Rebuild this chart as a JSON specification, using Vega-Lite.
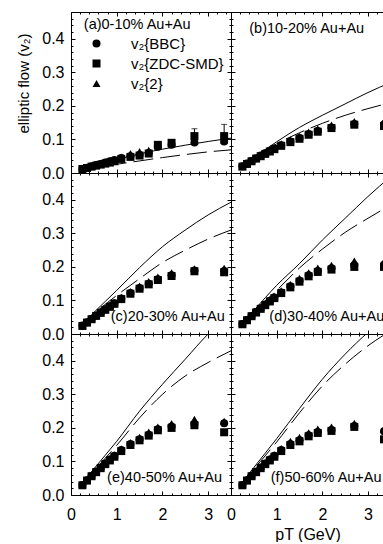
{
"$schema":"https://vega.github.io/schema/vega-lite/v6.json",
"padding":{"left":15,"top":11,"right":0,"bottom":0},
"columns":2,
"spacing":0,
"bounds":"flush",
"resolve":{"scale":{"shape":"independent"},"legend":{"shape":"independent"}},
"config":{"view":{"stroke":null},"font":"Liberation Sans",
 "axis":{"grid":false,"domainColor":"black","tickColor":"black","labelColor":"black","titleColor":"black","labelFont":"Liberation Sans","titleFont":"Liberation Sans","labelFontSize":16,"titleFontSize":16,"titleFontWeight":"normal","tickWidth":1,"domainWidth":1,"labelFlush":false,"labelOverlap":false}},
"datasets":{
"pts":[
{"p":"a","s":"v₂{BBC}","x":0.25,"y":0.012},{"p":"a","s":"v₂{BBC}","x":0.35,"y":0.016},{"p":"a","s":"v₂{BBC}","x":0.45,"y":0.020},{"p":"a","s":"v₂{BBC}","x":0.55,"y":0.024},{"p":"a","s":"v₂{BBC}","x":0.65,"y":0.027},{"p":"a","s":"v₂{BBC}","x":0.75,"y":0.031},{"p":"a","s":"v₂{BBC}","x":0.85,"y":0.035},{"p":"a","s":"v₂{BBC}","x":0.95,"y":0.039},{"p":"a","s":"v₂{BBC}","x":1.1,"y":0.045},{"p":"a","s":"v₂{BBC}","x":1.3,"y":0.050},{"p":"a","s":"v₂{BBC}","x":1.5,"y":0.054},{"p":"a","s":"v₂{BBC}","x":1.7,"y":0.060},{"p":"a","s":"v₂{BBC}","x":1.9,"y":0.078},{"p":"a","s":"v₂{BBC}","x":2.2,"y":0.084},{"p":"a","s":"v₂{BBC}","x":2.7,"y":0.091},{"p":"a","s":"v₂{BBC}","x":3.35,"y":0.094},
{"p":"a","s":"v₂{ZDC-SMD}","x":0.25,"y":0.012},{"p":"a","s":"v₂{ZDC-SMD}","x":0.35,"y":0.015},{"p":"a","s":"v₂{ZDC-SMD}","x":0.45,"y":0.019},{"p":"a","s":"v₂{ZDC-SMD}","x":0.55,"y":0.022},{"p":"a","s":"v₂{ZDC-SMD}","x":0.65,"y":0.025},{"p":"a","s":"v₂{ZDC-SMD}","x":0.75,"y":0.028},{"p":"a","s":"v₂{ZDC-SMD}","x":0.85,"y":0.031},{"p":"a","s":"v₂{ZDC-SMD}","x":0.95,"y":0.035},{"p":"a","s":"v₂{ZDC-SMD}","x":1.1,"y":0.042},{"p":"a","s":"v₂{ZDC-SMD}","x":1.3,"y":0.048},{"p":"a","s":"v₂{ZDC-SMD}","x":1.5,"y":0.052},{"p":"a","s":"v₂{ZDC-SMD}","x":1.7,"y":0.058},{"p":"a","s":"v₂{ZDC-SMD}","x":1.9,"y":0.084},{"p":"a","s":"v₂{ZDC-SMD}","x":2.2,"y":0.090},{"p":"a","s":"v₂{ZDC-SMD}","x":2.7,"y":0.110},{"p":"a","s":"v₂{ZDC-SMD}","x":3.35,"y":0.110},
{"p":"a","s":"v₂{2}","x":0.25,"y":0.013},{"p":"a","s":"v₂{2}","x":0.35,"y":0.017},{"p":"a","s":"v₂{2}","x":0.45,"y":0.021},{"p":"a","s":"v₂{2}","x":0.55,"y":0.025},{"p":"a","s":"v₂{2}","x":0.65,"y":0.029},{"p":"a","s":"v₂{2}","x":0.75,"y":0.033},{"p":"a","s":"v₂{2}","x":0.85,"y":0.037},{"p":"a","s":"v₂{2}","x":0.95,"y":0.041},{"p":"a","s":"v₂{2}","x":1.1,"y":0.048},{"p":"a","s":"v₂{2}","x":1.3,"y":0.058},{"p":"a","s":"v₂{2}","x":1.5,"y":0.064},{"p":"a","s":"v₂{2}","x":1.7,"y":0.068},{"p":"a","s":"v₂{2}","x":1.9,"y":0.080},{"p":"a","s":"v₂{2}","x":2.2,"y":0.086},{"p":"a","s":"v₂{2}","x":2.7,"y":0.095},{"p":"a","s":"v₂{2}","x":3.35,"y":0.098},
{"p":"b","s":"v₂{BBC}","x":0.25,"y":0.020},{"p":"b","s":"v₂{BBC}","x":0.35,"y":0.028},{"p":"b","s":"v₂{BBC}","x":0.45,"y":0.036},{"p":"b","s":"v₂{BBC}","x":0.55,"y":0.044},{"p":"b","s":"v₂{BBC}","x":0.65,"y":0.052},{"p":"b","s":"v₂{BBC}","x":0.75,"y":0.059},{"p":"b","s":"v₂{BBC}","x":0.85,"y":0.066},{"p":"b","s":"v₂{BBC}","x":0.95,"y":0.073},{"p":"b","s":"v₂{BBC}","x":1.1,"y":0.083},{"p":"b","s":"v₂{BBC}","x":1.3,"y":0.094},{"p":"b","s":"v₂{BBC}","x":1.5,"y":0.104},{"p":"b","s":"v₂{BBC}","x":1.7,"y":0.116},{"p":"b","s":"v₂{BBC}","x":1.9,"y":0.125},{"p":"b","s":"v₂{BBC}","x":2.2,"y":0.136},{"p":"b","s":"v₂{BBC}","x":2.7,"y":0.146},{"p":"b","s":"v₂{BBC}","x":3.35,"y":0.145},
{"p":"b","s":"v₂{ZDC-SMD}","x":0.25,"y":0.019},{"p":"b","s":"v₂{ZDC-SMD}","x":0.35,"y":0.027},{"p":"b","s":"v₂{ZDC-SMD}","x":0.45,"y":0.035},{"p":"b","s":"v₂{ZDC-SMD}","x":0.55,"y":0.043},{"p":"b","s":"v₂{ZDC-SMD}","x":0.65,"y":0.050},{"p":"b","s":"v₂{ZDC-SMD}","x":0.75,"y":0.057},{"p":"b","s":"v₂{ZDC-SMD}","x":0.85,"y":0.064},{"p":"b","s":"v₂{ZDC-SMD}","x":0.95,"y":0.071},{"p":"b","s":"v₂{ZDC-SMD}","x":1.1,"y":0.081},{"p":"b","s":"v₂{ZDC-SMD}","x":1.3,"y":0.092},{"p":"b","s":"v₂{ZDC-SMD}","x":1.5,"y":0.102},{"p":"b","s":"v₂{ZDC-SMD}","x":1.7,"y":0.114},{"p":"b","s":"v₂{ZDC-SMD}","x":1.9,"y":0.123},{"p":"b","s":"v₂{ZDC-SMD}","x":2.2,"y":0.134},{"p":"b","s":"v₂{ZDC-SMD}","x":2.7,"y":0.144},{"p":"b","s":"v₂{ZDC-SMD}","x":3.35,"y":0.140},
{"p":"b","s":"v₂{2}","x":0.25,"y":0.021},{"p":"b","s":"v₂{2}","x":0.35,"y":0.030},{"p":"b","s":"v₂{2}","x":0.45,"y":0.038},{"p":"b","s":"v₂{2}","x":0.55,"y":0.046},{"p":"b","s":"v₂{2}","x":0.65,"y":0.054},{"p":"b","s":"v₂{2}","x":0.75,"y":0.062},{"p":"b","s":"v₂{2}","x":0.85,"y":0.069},{"p":"b","s":"v₂{2}","x":0.95,"y":0.076},{"p":"b","s":"v₂{2}","x":1.1,"y":0.087},{"p":"b","s":"v₂{2}","x":1.3,"y":0.099},{"p":"b","s":"v₂{2}","x":1.5,"y":0.110},{"p":"b","s":"v₂{2}","x":1.7,"y":0.122},{"p":"b","s":"v₂{2}","x":1.9,"y":0.132},{"p":"b","s":"v₂{2}","x":2.2,"y":0.143},{"p":"b","s":"v₂{2}","x":2.7,"y":0.154},{"p":"b","s":"v₂{2}","x":3.35,"y":0.155},
{"p":"c","s":"v₂{BBC}","x":0.25,"y":0.025},{"p":"c","s":"v₂{BBC}","x":0.35,"y":0.035},{"p":"c","s":"v₂{BBC}","x":0.45,"y":0.045},{"p":"c","s":"v₂{BBC}","x":0.55,"y":0.055},{"p":"c","s":"v₂{BBC}","x":0.65,"y":0.065},{"p":"c","s":"v₂{BBC}","x":0.75,"y":0.074},{"p":"c","s":"v₂{BBC}","x":0.85,"y":0.083},{"p":"c","s":"v₂{BBC}","x":0.95,"y":0.092},{"p":"c","s":"v₂{BBC}","x":1.1,"y":0.106},{"p":"c","s":"v₂{BBC}","x":1.3,"y":0.122},{"p":"c","s":"v₂{BBC}","x":1.5,"y":0.137},{"p":"c","s":"v₂{BBC}","x":1.7,"y":0.150},{"p":"c","s":"v₂{BBC}","x":1.9,"y":0.163},{"p":"c","s":"v₂{BBC}","x":2.2,"y":0.175},{"p":"c","s":"v₂{BBC}","x":2.7,"y":0.189},{"p":"c","s":"v₂{BBC}","x":3.35,"y":0.188},
{"p":"c","s":"v₂{ZDC-SMD}","x":0.25,"y":0.024},{"p":"c","s":"v₂{ZDC-SMD}","x":0.35,"y":0.034},{"p":"c","s":"v₂{ZDC-SMD}","x":0.45,"y":0.044},{"p":"c","s":"v₂{ZDC-SMD}","x":0.55,"y":0.054},{"p":"c","s":"v₂{ZDC-SMD}","x":0.65,"y":0.063},{"p":"c","s":"v₂{ZDC-SMD}","x":0.75,"y":0.072},{"p":"c","s":"v₂{ZDC-SMD}","x":0.85,"y":0.081},{"p":"c","s":"v₂{ZDC-SMD}","x":0.95,"y":0.090},{"p":"c","s":"v₂{ZDC-SMD}","x":1.1,"y":0.104},{"p":"c","s":"v₂{ZDC-SMD}","x":1.3,"y":0.120},{"p":"c","s":"v₂{ZDC-SMD}","x":1.5,"y":0.135},{"p":"c","s":"v₂{ZDC-SMD}","x":1.7,"y":0.148},{"p":"c","s":"v₂{ZDC-SMD}","x":1.9,"y":0.161},{"p":"c","s":"v₂{ZDC-SMD}","x":2.2,"y":0.173},{"p":"c","s":"v₂{ZDC-SMD}","x":2.7,"y":0.187},{"p":"c","s":"v₂{ZDC-SMD}","x":3.35,"y":0.184},
{"p":"c","s":"v₂{2}","x":0.25,"y":0.026},{"p":"c","s":"v₂{2}","x":0.35,"y":0.036},{"p":"c","s":"v₂{2}","x":0.45,"y":0.047},{"p":"c","s":"v₂{2}","x":0.55,"y":0.057},{"p":"c","s":"v₂{2}","x":0.65,"y":0.067},{"p":"c","s":"v₂{2}","x":0.75,"y":0.077},{"p":"c","s":"v₂{2}","x":0.85,"y":0.086},{"p":"c","s":"v₂{2}","x":0.95,"y":0.095},{"p":"c","s":"v₂{2}","x":1.1,"y":0.110},{"p":"c","s":"v₂{2}","x":1.3,"y":0.127},{"p":"c","s":"v₂{2}","x":1.5,"y":0.143},{"p":"c","s":"v₂{2}","x":1.7,"y":0.157},{"p":"c","s":"v₂{2}","x":1.9,"y":0.170},{"p":"c","s":"v₂{2}","x":2.2,"y":0.183},{"p":"c","s":"v₂{2}","x":2.7,"y":0.195},{"p":"c","s":"v₂{2}","x":3.35,"y":0.196},
{"p":"d","s":"v₂{BBC}","x":0.25,"y":0.030},{"p":"d","s":"v₂{BBC}","x":0.35,"y":0.042},{"p":"d","s":"v₂{BBC}","x":0.45,"y":0.054},{"p":"d","s":"v₂{BBC}","x":0.55,"y":0.066},{"p":"d","s":"v₂{BBC}","x":0.65,"y":0.077},{"p":"d","s":"v₂{BBC}","x":0.75,"y":0.088},{"p":"d","s":"v₂{BBC}","x":0.85,"y":0.099},{"p":"d","s":"v₂{BBC}","x":0.95,"y":0.109},{"p":"d","s":"v₂{BBC}","x":1.1,"y":0.124},{"p":"d","s":"v₂{BBC}","x":1.3,"y":0.142},{"p":"d","s":"v₂{BBC}","x":1.5,"y":0.159},{"p":"d","s":"v₂{BBC}","x":1.7,"y":0.175},{"p":"d","s":"v₂{BBC}","x":1.9,"y":0.188},{"p":"d","s":"v₂{BBC}","x":2.2,"y":0.196},{"p":"d","s":"v₂{BBC}","x":2.7,"y":0.205},{"p":"d","s":"v₂{BBC}","x":3.35,"y":0.207},
{"p":"d","s":"v₂{ZDC-SMD}","x":0.25,"y":0.029},{"p":"d","s":"v₂{ZDC-SMD}","x":0.35,"y":0.041},{"p":"d","s":"v₂{ZDC-SMD}","x":0.45,"y":0.053},{"p":"d","s":"v₂{ZDC-SMD}","x":0.55,"y":0.064},{"p":"d","s":"v₂{ZDC-SMD}","x":0.65,"y":0.075},{"p":"d","s":"v₂{ZDC-SMD}","x":0.75,"y":0.086},{"p":"d","s":"v₂{ZDC-SMD}","x":0.85,"y":0.097},{"p":"d","s":"v₂{ZDC-SMD}","x":0.95,"y":0.107},{"p":"d","s":"v₂{ZDC-SMD}","x":1.1,"y":0.122},{"p":"d","s":"v₂{ZDC-SMD}","x":1.3,"y":0.139},{"p":"d","s":"v₂{ZDC-SMD}","x":1.5,"y":0.156},{"p":"d","s":"v₂{ZDC-SMD}","x":1.7,"y":0.172},{"p":"d","s":"v₂{ZDC-SMD}","x":1.9,"y":0.185},{"p":"d","s":"v₂{ZDC-SMD}","x":2.2,"y":0.192},{"p":"d","s":"v₂{ZDC-SMD}","x":2.7,"y":0.200},{"p":"d","s":"v₂{ZDC-SMD}","x":3.35,"y":0.200},
{"p":"d","s":"v₂{2}","x":0.25,"y":0.031},{"p":"d","s":"v₂{2}","x":0.35,"y":0.044},{"p":"d","s":"v₂{2}","x":0.45,"y":0.056},{"p":"d","s":"v₂{2}","x":0.55,"y":0.068},{"p":"d","s":"v₂{2}","x":0.65,"y":0.080},{"p":"d","s":"v₂{2}","x":0.75,"y":0.091},{"p":"d","s":"v₂{2}","x":0.85,"y":0.102},{"p":"d","s":"v₂{2}","x":0.95,"y":0.113},{"p":"d","s":"v₂{2}","x":1.1,"y":0.129},{"p":"d","s":"v₂{2}","x":1.3,"y":0.148},{"p":"d","s":"v₂{2}","x":1.5,"y":0.166},{"p":"d","s":"v₂{2}","x":1.7,"y":0.183},{"p":"d","s":"v₂{2}","x":1.9,"y":0.197},{"p":"d","s":"v₂{2}","x":2.2,"y":0.205},{"p":"d","s":"v₂{2}","x":2.7,"y":0.218},{"p":"d","s":"v₂{2}","x":3.35,"y":0.216},
{"p":"e","s":"v₂{BBC}","x":0.25,"y":0.030},{"p":"e","s":"v₂{BBC}","x":0.35,"y":0.044},{"p":"e","s":"v₂{BBC}","x":0.45,"y":0.057},{"p":"e","s":"v₂{BBC}","x":0.55,"y":0.070},{"p":"e","s":"v₂{BBC}","x":0.65,"y":0.082},{"p":"e","s":"v₂{BBC}","x":0.75,"y":0.094},{"p":"e","s":"v₂{BBC}","x":0.85,"y":0.106},{"p":"e","s":"v₂{BBC}","x":0.95,"y":0.117},{"p":"e","s":"v₂{BBC}","x":1.1,"y":0.134},{"p":"e","s":"v₂{BBC}","x":1.3,"y":0.152},{"p":"e","s":"v₂{BBC}","x":1.5,"y":0.166},{"p":"e","s":"v₂{BBC}","x":1.7,"y":0.180},{"p":"e","s":"v₂{BBC}","x":1.9,"y":0.196},{"p":"e","s":"v₂{BBC}","x":2.2,"y":0.204},{"p":"e","s":"v₂{BBC}","x":2.7,"y":0.212},{"p":"e","s":"v₂{BBC}","x":3.35,"y":0.214},
{"p":"e","s":"v₂{ZDC-SMD}","x":0.25,"y":0.029},{"p":"e","s":"v₂{ZDC-SMD}","x":0.35,"y":0.043},{"p":"e","s":"v₂{ZDC-SMD}","x":0.45,"y":0.056},{"p":"e","s":"v₂{ZDC-SMD}","x":0.55,"y":0.068},{"p":"e","s":"v₂{ZDC-SMD}","x":0.65,"y":0.080},{"p":"e","s":"v₂{ZDC-SMD}","x":0.75,"y":0.092},{"p":"e","s":"v₂{ZDC-SMD}","x":0.85,"y":0.103},{"p":"e","s":"v₂{ZDC-SMD}","x":0.95,"y":0.114},{"p":"e","s":"v₂{ZDC-SMD}","x":1.1,"y":0.131},{"p":"e","s":"v₂{ZDC-SMD}","x":1.3,"y":0.149},{"p":"e","s":"v₂{ZDC-SMD}","x":1.5,"y":0.163},{"p":"e","s":"v₂{ZDC-SMD}","x":1.7,"y":0.177},{"p":"e","s":"v₂{ZDC-SMD}","x":1.9,"y":0.193},{"p":"e","s":"v₂{ZDC-SMD}","x":2.2,"y":0.200},{"p":"e","s":"v₂{ZDC-SMD}","x":2.7,"y":0.208},{"p":"e","s":"v₂{ZDC-SMD}","x":3.35,"y":0.187},
{"p":"e","s":"v₂{2}","x":0.25,"y":0.031},{"p":"e","s":"v₂{2}","x":0.35,"y":0.046},{"p":"e","s":"v₂{2}","x":0.45,"y":0.059},{"p":"e","s":"v₂{2}","x":0.55,"y":0.072},{"p":"e","s":"v₂{2}","x":0.65,"y":0.085},{"p":"e","s":"v₂{2}","x":0.75,"y":0.097},{"p":"e","s":"v₂{2}","x":0.85,"y":0.109},{"p":"e","s":"v₂{2}","x":0.95,"y":0.120},{"p":"e","s":"v₂{2}","x":1.1,"y":0.138},{"p":"e","s":"v₂{2}","x":1.3,"y":0.157},{"p":"e","s":"v₂{2}","x":1.5,"y":0.172},{"p":"e","s":"v₂{2}","x":1.7,"y":0.188},{"p":"e","s":"v₂{2}","x":1.9,"y":0.203},{"p":"e","s":"v₂{2}","x":2.2,"y":0.213},{"p":"e","s":"v₂{2}","x":2.7,"y":0.226},{"p":"e","s":"v₂{2}","x":3.35,"y":0.220},
{"p":"f","s":"v₂{BBC}","x":0.25,"y":0.030},{"p":"f","s":"v₂{BBC}","x":0.35,"y":0.044},{"p":"f","s":"v₂{BBC}","x":0.45,"y":0.057},{"p":"f","s":"v₂{BBC}","x":0.55,"y":0.070},{"p":"f","s":"v₂{BBC}","x":0.65,"y":0.082},{"p":"f","s":"v₂{BBC}","x":0.75,"y":0.094},{"p":"f","s":"v₂{BBC}","x":0.85,"y":0.106},{"p":"f","s":"v₂{BBC}","x":0.95,"y":0.117},{"p":"f","s":"v₂{BBC}","x":1.1,"y":0.134},{"p":"f","s":"v₂{BBC}","x":1.3,"y":0.152},{"p":"f","s":"v₂{BBC}","x":1.5,"y":0.163},{"p":"f","s":"v₂{BBC}","x":1.7,"y":0.178},{"p":"f","s":"v₂{BBC}","x":1.9,"y":0.188},{"p":"f","s":"v₂{BBC}","x":2.2,"y":0.194},{"p":"f","s":"v₂{BBC}","x":2.7,"y":0.206},{"p":"f","s":"v₂{BBC}","x":3.35,"y":0.190},
{"p":"f","s":"v₂{ZDC-SMD}","x":0.25,"y":0.029},{"p":"f","s":"v₂{ZDC-SMD}","x":0.35,"y":0.043},{"p":"f","s":"v₂{ZDC-SMD}","x":0.45,"y":0.056},{"p":"f","s":"v₂{ZDC-SMD}","x":0.55,"y":0.068},{"p":"f","s":"v₂{ZDC-SMD}","x":0.65,"y":0.080},{"p":"f","s":"v₂{ZDC-SMD}","x":0.75,"y":0.092},{"p":"f","s":"v₂{ZDC-SMD}","x":0.85,"y":0.103},{"p":"f","s":"v₂{ZDC-SMD}","x":0.95,"y":0.114},{"p":"f","s":"v₂{ZDC-SMD}","x":1.1,"y":0.131},{"p":"f","s":"v₂{ZDC-SMD}","x":1.3,"y":0.149},{"p":"f","s":"v₂{ZDC-SMD}","x":1.5,"y":0.160},{"p":"f","s":"v₂{ZDC-SMD}","x":1.7,"y":0.175},{"p":"f","s":"v₂{ZDC-SMD}","x":1.9,"y":0.185},{"p":"f","s":"v₂{ZDC-SMD}","x":2.2,"y":0.191},{"p":"f","s":"v₂{ZDC-SMD}","x":2.7,"y":0.203},{"p":"f","s":"v₂{ZDC-SMD}","x":3.35,"y":0.166},
{"p":"f","s":"v₂{2}","x":0.25,"y":0.031},{"p":"f","s":"v₂{2}","x":0.35,"y":0.046},{"p":"f","s":"v₂{2}","x":0.45,"y":0.059},{"p":"f","s":"v₂{2}","x":0.55,"y":0.072},{"p":"f","s":"v₂{2}","x":0.65,"y":0.085},{"p":"f","s":"v₂{2}","x":0.75,"y":0.097},{"p":"f","s":"v₂{2}","x":0.85,"y":0.109},{"p":"f","s":"v₂{2}","x":0.95,"y":0.120},{"p":"f","s":"v₂{2}","x":1.1,"y":0.139},{"p":"f","s":"v₂{2}","x":1.3,"y":0.160},{"p":"f","s":"v₂{2}","x":1.5,"y":0.172},{"p":"f","s":"v₂{2}","x":1.7,"y":0.186},{"p":"f","s":"v₂{2}","x":1.9,"y":0.197},{"p":"f","s":"v₂{2}","x":2.2,"y":0.203},{"p":"f","s":"v₂{2}","x":2.7,"y":0.214},{"p":"f","s":"v₂{2}","x":3.35,"y":0.195}
],
"lines":[
{"p":"a","k":"s","x":0.2,"y":0.010},{"p":"a","k":"s","x":0.5,"y":0.022},{"p":"a","k":"s","x":1.0,"y":0.040},{"p":"a","k":"s","x":1.5,"y":0.057},{"p":"a","k":"s","x":2.0,"y":0.071},{"p":"a","k":"s","x":2.5,"y":0.083},{"p":"a","k":"s","x":3.0,"y":0.094},{"p":"a","k":"s","x":3.5,"y":0.104},
{"p":"a","k":"d","x":0.2,"y":0.008},{"p":"a","k":"d","x":0.5,"y":0.016},{"p":"a","k":"d","x":1.0,"y":0.026},{"p":"a","k":"d","x":1.5,"y":0.036},{"p":"a","k":"d","x":2.0,"y":0.046},{"p":"a","k":"d","x":2.5,"y":0.055},{"p":"a","k":"d","x":3.0,"y":0.063},{"p":"a","k":"d","x":3.5,"y":0.069},
{"p":"b","k":"s","x":0.2,"y":0.017},{"p":"b","k":"s","x":0.5,"y":0.046},{"p":"b","k":"s","x":1.0,"y":0.093},{"p":"b","k":"s","x":1.5,"y":0.136},{"p":"b","k":"s","x":2.0,"y":0.172},{"p":"b","k":"s","x":2.5,"y":0.206},{"p":"b","k":"s","x":3.0,"y":0.240},{"p":"b","k":"s","x":3.5,"y":0.270},
{"p":"b","k":"d","x":0.2,"y":0.016},{"p":"b","k":"d","x":0.5,"y":0.044},{"p":"b","k":"d","x":1.0,"y":0.087},{"p":"b","k":"d","x":1.5,"y":0.120},{"p":"b","k":"d","x":2.0,"y":0.148},{"p":"b","k":"d","x":2.5,"y":0.172},{"p":"b","k":"d","x":3.0,"y":0.192},{"p":"b","k":"d","x":3.5,"y":0.210},
{"p":"c","k":"s","x":0.2,"y":0.022},{"p":"c","k":"s","x":0.5,"y":0.064},{"p":"c","k":"s","x":1.0,"y":0.130},{"p":"c","k":"s","x":1.5,"y":0.198},{"p":"c","k":"s","x":2.0,"y":0.260},{"p":"c","k":"s","x":2.5,"y":0.310},{"p":"c","k":"s","x":3.0,"y":0.355},{"p":"c","k":"s","x":3.5,"y":0.393},
{"p":"c","k":"d","x":0.2,"y":0.021},{"p":"c","k":"d","x":0.5,"y":0.060},{"p":"c","k":"d","x":1.0,"y":0.115},{"p":"c","k":"d","x":1.5,"y":0.165},{"p":"c","k":"d","x":2.0,"y":0.213},{"p":"c","k":"d","x":2.5,"y":0.250},{"p":"c","k":"d","x":3.0,"y":0.283},{"p":"c","k":"d","x":3.5,"y":0.310},
{"p":"d","k":"s","x":0.2,"y":0.025},{"p":"d","k":"s","x":0.5,"y":0.070},{"p":"d","k":"s","x":1.0,"y":0.145},{"p":"d","k":"s","x":1.5,"y":0.210},{"p":"d","k":"s","x":2.0,"y":0.280},{"p":"d","k":"s","x":2.5,"y":0.345},{"p":"d","k":"s","x":3.0,"y":0.410},{"p":"d","k":"s","x":3.5,"y":0.470},
{"p":"d","k":"d","x":0.2,"y":0.024},{"p":"d","k":"d","x":0.5,"y":0.066},{"p":"d","k":"d","x":1.0,"y":0.130},{"p":"d","k":"d","x":1.5,"y":0.197},{"p":"d","k":"d","x":2.0,"y":0.253},{"p":"d","k":"d","x":2.5,"y":0.303},{"p":"d","k":"d","x":3.0,"y":0.345},{"p":"d","k":"d","x":3.5,"y":0.385},
{"p":"e","k":"s","x":0.2,"y":0.028},{"p":"e","k":"s","x":0.5,"y":0.078},{"p":"e","k":"s","x":1.0,"y":0.160},{"p":"e","k":"s","x":1.5,"y":0.250},{"p":"e","k":"s","x":2.0,"y":0.330},{"p":"e","k":"s","x":2.5,"y":0.405},{"p":"e","k":"s","x":3.0,"y":0.480},{"p":"e","k":"s","x":3.5,"y":0.540},
{"p":"e","k":"d","x":0.2,"y":0.026},{"p":"e","k":"d","x":0.5,"y":0.072},{"p":"e","k":"d","x":1.0,"y":0.148},{"p":"e","k":"d","x":1.5,"y":0.230},{"p":"e","k":"d","x":2.0,"y":0.300},{"p":"e","k":"d","x":2.5,"y":0.355},{"p":"e","k":"d","x":3.0,"y":0.395},{"p":"e","k":"d","x":3.5,"y":0.430},
{"p":"f","k":"s","x":0.2,"y":0.030},{"p":"f","k":"s","x":0.5,"y":0.082},{"p":"f","k":"s","x":1.0,"y":0.168},{"p":"f","k":"s","x":1.5,"y":0.258},{"p":"f","k":"s","x":2.0,"y":0.345},{"p":"f","k":"s","x":2.5,"y":0.420},{"p":"f","k":"s","x":3.0,"y":0.485},{"p":"f","k":"s","x":3.5,"y":0.540},
{"p":"f","k":"d","x":0.2,"y":0.028},{"p":"f","k":"d","x":0.5,"y":0.077},{"p":"f","k":"d","x":1.0,"y":0.158},{"p":"f","k":"d","x":1.5,"y":0.245},{"p":"f","k":"d","x":2.0,"y":0.325},{"p":"f","k":"d","x":2.5,"y":0.390},{"p":"f","k":"d","x":3.0,"y":0.445},{"p":"f","k":"d","x":3.5,"y":0.490}
],
"labels":[{"p":"a","t":"(a)0-10% Au+Au"},{"p":"b","t":"(b)10-20% Au+Au"},{"p":"c","t":"(c)20-30% Au+Au"},{"p":"d","t":"(d)30-40% Au+Au"},{"p":"e","t":"(e)40-50% Au+Au"},{"p":"f","t":"(f)50-60% Au+Au"}],
"errs":[{"p":"a","x":2.7,"lo":0.110,"hi":0.132},{"p":"a","x":3.35,"lo":0.110,"hi":0.145}]
},
"concat":[
{"width":160,"height":161,"resolve":{"axis":{"x":"independent","y":"independent"}},"layer":[
 {"data":{"name":"lines"},"transform":[{"filter":"datum.p=='a'&&datum.k=='s'"}],"mark":{"type":"line","color":"black","strokeWidth":1,"clip":true,"interpolate":"monotone"},
  "encoding":{"x":{"field":"x","type":"quantitative","scale":{"domain":[0,3.5],"nice":false},"axis":{"orient":"bottom","values":[0,1,2,3],"tickSize":-4,"labels":false,"title":null}},
   "y":{"field":"y","type":"quantitative","scale":{"domain":[0,0.48],"nice":false},"axis":{"orient":"left","values":[0,0.1,0.2,0.3,0.4],"tickSize":-4,"labelPadding":11,"format":".1f","title":"elliptic flow (v₂)","titleX":-43,"titleY":71,"titleBaseline":"alphabetic","titleAlign":"center","titleFontSize":15}}}},
 {"data":{"name":"lines"},"transform":[{"filter":"datum.p=='a'&&datum.k=='d'"}],"mark":{"type":"line","color":"black","strokeWidth":1,"clip":true,"interpolate":"monotone","strokeDash":[20,7]},
  "encoding":{"x":{"field":"x","type":"quantitative","axis":{"orient":"bottom","values":[0.2,0.4,0.6,0.8,1.2,1.4,1.6,1.8,2.2,2.4,2.6,2.8,3.2,3.4],"tickSize":-2,"domain":false,"labels":false,"title":null}},
   "y":{"field":"y","type":"quantitative","axis":{"orient":"left","values":[0.02,0.04,0.06,0.08,0.12,0.14,0.16,0.18,0.22,0.24,0.26,0.28,0.32,0.34,0.36,0.38,0.42,0.44,0.46],"tickSize":-2,"domain":false,"labels":false,"title":null}}}},
 {"data":{"name":"errs"},"mark":{"type":"errorbar","color":"black","ticks":{"size":6,"color":"black"}},
  "encoding":{"x":{"field":"x","type":"quantitative","axis":null},"y":{"field":"lo","type":"quantitative","axis":null},"y2":{"field":"hi"}}},
 {"data":{"name":"pts"},"transform":[{"filter":"datum.p=='a'"}],"mark":{"type":"point","filled":true,"color":"black","opacity":1,"size":64,"clip":true},
  "encoding":{"x":{"field":"x","type":"quantitative","axis":{"orient":"top","values":[0,1,2,3],"tickSize":-4,"labels":false,"title":null}},
   "y":{"field":"y","type":"quantitative","axis":{"orient":"right","values":[0,0.1,0.2,0.3,0.4],"tickSize":-4,"labels":false,"title":null}},
   "shape":{"field":"s","type":"nominal","scale":{"domain":["v₂{BBC}","v₂{ZDC-SMD}","v₂{2}"],"range":["circle","square","triangle-up"]},
    "legend":{"orient":"none","legendX":18,"legendY":24,"title":null,"padding":0,"labelFontSize":15,"labelFont":"Liberation Sans","labelColor":"black","labelOffset":27,"rowPadding":4,"symbolSize":64,"symbolFillColor":"black","symbolStrokeWidth":0}}}},
 {"data":{"name":"labels"},"transform":[{"filter":"datum.p=='a'"}],"mark":{"type":"text","align":"left","baseline":"middle","fontSize":14.5,"font":"Liberation Sans","color":"black","clip":true},
  "encoding":{"x":{"datum":0.28,"type":"quantitative","axis":{"orient":"top","values":[0.2,0.4,0.6,0.8,1.2,1.4,1.6,1.8,2.2,2.4,2.6,2.8,3.2,3.4],"tickSize":-2,"domain":false,"labels":false,"title":null}},
   "y":{"datum":0.44,"type":"quantitative","axis":{"orient":"right","values":[0.02,0.04,0.06,0.08,0.12,0.14,0.16,0.18,0.22,0.24,0.26,0.28,0.32,0.34,0.36,0.38,0.42,0.44,0.46],"tickSize":-2,"domain":false,"labels":false,"title":null}},
   "text":{"field":"t"}}}
]},
{"width":153,"height":161,"resolve":{"axis":{"x":"independent","y":"independent"}},"layer":[
 {"data":{"name":"lines"},"transform":[{"filter":"datum.p=='b'&&datum.k=='s'"}],"mark":{"type":"line","color":"black","strokeWidth":1,"clip":true,"interpolate":"monotone"},
  "encoding":{"x":{"field":"x","type":"quantitative","scale":{"domain":[0,3.35],"nice":false},"axis":{"orient":"bottom","values":[0,1,2,3],"tickSize":-4,"labels":false,"title":null}},
   "y":{"field":"y","type":"quantitative","scale":{"domain":[0,0.48],"nice":false},"axis":{"orient":"left","values":[0,0.1,0.2,0.3,0.4],"tickSize":-4,"labels":false,"title":null}}}},
 {"data":{"name":"lines"},"transform":[{"filter":"datum.p=='b'&&datum.k=='d'"}],"mark":{"type":"line","color":"black","strokeWidth":1,"clip":true,"interpolate":"monotone","strokeDash":[20,7]},
  "encoding":{"x":{"field":"x","type":"quantitative","axis":{"orient":"bottom","values":[0.2,0.4,0.6,0.8,1.2,1.4,1.6,1.8,2.2,2.4,2.6,2.8,3.2],"tickSize":-2,"domain":false,"labels":false,"title":null}},
   "y":{"field":"y","type":"quantitative","axis":{"orient":"left","values":[0.02,0.04,0.06,0.08,0.12,0.14,0.16,0.18,0.22,0.24,0.26,0.28,0.32,0.34,0.36,0.38,0.42,0.44,0.46],"tickSize":-2,"domain":false,"labels":false,"title":null}}}},
 {"data":{"name":"pts"},"transform":[{"filter":"datum.p=='b'"}],"mark":{"type":"point","filled":true,"color":"black","opacity":1,"size":64,"clip":true},
  "encoding":{"x":{"field":"x","type":"quantitative","axis":{"orient":"top","values":[0,1,2,3],"tickSize":-4,"labels":false,"title":null}},
   "y":{"field":"y","type":"quantitative","axis":null},
   "shape":{"field":"s","type":"nominal","scale":{"domain":["v₂{BBC}","v₂{ZDC-SMD}","v₂{2}"],"range":["circle","square","triangle-up"]},"legend":null}}},
 {"data":{"name":"labels"},"transform":[{"filter":"datum.p=='b'"}],"mark":{"type":"text","align":"left","baseline":"middle","fontSize":14.5,"font":"Liberation Sans","color":"black","clip":true},
  "encoding":{"x":{"datum":0.40,"type":"quantitative","axis":{"orient":"top","values":[0.2,0.4,0.6,0.8,1.2,1.4,1.6,1.8,2.2,2.4,2.6,2.8,3.2],"tickSize":-2,"domain":false,"labels":false,"title":null}},
   "y":{"datum":0.43,"type":"quantitative","axis":null},"text":{"field":"t"}}}
]},
{"width":160,"height":161,"resolve":{"axis":{"x":"independent","y":"independent"}},"layer":[
 {"data":{"name":"lines"},"transform":[{"filter":"datum.p=='c'&&datum.k=='s'"}],"mark":{"type":"line","color":"black","strokeWidth":1,"clip":true,"interpolate":"monotone"},
  "encoding":{"x":{"field":"x","type":"quantitative","scale":{"domain":[0,3.5],"nice":false},"axis":{"orient":"bottom","values":[0,1,2,3],"tickSize":-4,"labels":false,"title":null}},
   "y":{"field":"y","type":"quantitative","scale":{"domain":[0,0.48],"nice":false},"axis":{"orient":"left","values":[0,0.1,0.2,0.3,0.4],"tickSize":-4,"labelPadding":11,"format":".1f","title":null}}}},
 {"data":{"name":"lines"},"transform":[{"filter":"datum.p=='c'&&datum.k=='d'"}],"mark":{"type":"line","color":"black","strokeWidth":1,"clip":true,"interpolate":"monotone","strokeDash":[20,7]},
  "encoding":{"x":{"field":"x","type":"quantitative","axis":{"orient":"bottom","values":[0.2,0.4,0.6,0.8,1.2,1.4,1.6,1.8,2.2,2.4,2.6,2.8,3.2,3.4],"tickSize":-2,"domain":false,"labels":false,"title":null}},
   "y":{"field":"y","type":"quantitative","axis":{"orient":"left","values":[0.02,0.04,0.06,0.08,0.12,0.14,0.16,0.18,0.22,0.24,0.26,0.28,0.32,0.34,0.36,0.38,0.42,0.44,0.46],"tickSize":-2,"domain":false,"labels":false,"title":null}}}},
 {"data":{"name":"pts"},"transform":[{"filter":"datum.p=='c'"}],"mark":{"type":"point","filled":true,"color":"black","opacity":1,"size":64,"clip":true},
  "encoding":{"x":{"field":"x","type":"quantitative","axis":{"orient":"top","values":[0,1,2,3],"tickSize":-4,"labels":false,"title":null}},
   "y":{"field":"y","type":"quantitative","axis":{"orient":"right","values":[0,0.1,0.2,0.3,0.4],"tickSize":-4,"labels":false,"title":null}},
   "shape":{"field":"s","type":"nominal","scale":{"domain":["v₂{BBC}","v₂{ZDC-SMD}","v₂{2}"],"range":["circle","square","triangle-up"]},"legend":null}}},
 {"data":{"name":"labels"},"transform":[{"filter":"datum.p=='c'"}],"mark":{"type":"text","align":"left","baseline":"middle","fontSize":14.5,"font":"Liberation Sans","color":"black","clip":true},
  "encoding":{"x":{"datum":0.87,"type":"quantitative","axis":{"orient":"top","values":[0.2,0.4,0.6,0.8,1.2,1.4,1.6,1.8,2.2,2.4,2.6,2.8,3.2,3.4],"tickSize":-2,"domain":false,"labels":false,"title":null}},
   "y":{"datum":0.051,"type":"quantitative","axis":{"orient":"right","values":[0.02,0.04,0.06,0.08,0.12,0.14,0.16,0.18,0.22,0.24,0.26,0.28,0.32,0.34,0.36,0.38,0.42,0.44,0.46],"tickSize":-2,"domain":false,"labels":false,"title":null}},
   "text":{"field":"t"}}}
]},
{"width":153,"height":161,"resolve":{"axis":{"x":"independent","y":"independent"}},"layer":[
 {"data":{"name":"lines"},"transform":[{"filter":"datum.p=='d'&&datum.k=='s'"}],"mark":{"type":"line","color":"black","strokeWidth":1,"clip":true,"interpolate":"monotone"},
  "encoding":{"x":{"field":"x","type":"quantitative","scale":{"domain":[0,3.35],"nice":false},"axis":{"orient":"bottom","values":[0,1,2,3],"tickSize":-4,"labels":false,"title":null}},
   "y":{"field":"y","type":"quantitative","scale":{"domain":[0,0.48],"nice":false},"axis":{"orient":"left","values":[0,0.1,0.2,0.3,0.4],"tickSize":-4,"labels":false,"title":null}}}},
 {"data":{"name":"lines"},"transform":[{"filter":"datum.p=='d'&&datum.k=='d'"}],"mark":{"type":"line","color":"black","strokeWidth":1,"clip":true,"interpolate":"monotone","strokeDash":[20,7]},
  "encoding":{"x":{"field":"x","type":"quantitative","axis":{"orient":"bottom","values":[0.2,0.4,0.6,0.8,1.2,1.4,1.6,1.8,2.2,2.4,2.6,2.8,3.2],"tickSize":-2,"domain":false,"labels":false,"title":null}},
   "y":{"field":"y","type":"quantitative","axis":{"orient":"left","values":[0.02,0.04,0.06,0.08,0.12,0.14,0.16,0.18,0.22,0.24,0.26,0.28,0.32,0.34,0.36,0.38,0.42,0.44,0.46],"tickSize":-2,"domain":false,"labels":false,"title":null}}}},
 {"data":{"name":"pts"},"transform":[{"filter":"datum.p=='d'"}],"mark":{"type":"point","filled":true,"color":"black","opacity":1,"size":64,"clip":true},
  "encoding":{"x":{"field":"x","type":"quantitative","axis":{"orient":"top","values":[0,1,2,3],"tickSize":-4,"labels":false,"title":null}},
   "y":{"field":"y","type":"quantitative","axis":null},
   "shape":{"field":"s","type":"nominal","scale":{"domain":["v₂{BBC}","v₂{ZDC-SMD}","v₂{2}"],"range":["circle","square","triangle-up"]},"legend":null}}},
 {"data":{"name":"labels"},"transform":[{"filter":"datum.p=='d'"}],"mark":{"type":"text","align":"left","baseline":"middle","fontSize":14.5,"font":"Liberation Sans","color":"black","clip":true},
  "encoding":{"x":{"datum":0.84,"type":"quantitative","axis":{"orient":"top","values":[0.2,0.4,0.6,0.8,1.2,1.4,1.6,1.8,2.2,2.4,2.6,2.8,3.2],"tickSize":-2,"domain":false,"labels":false,"title":null}},
   "y":{"datum":0.051,"type":"quantitative","axis":null},"text":{"field":"t"}}}
]},
{"width":160,"height":161,"resolve":{"axis":{"x":"independent","y":"independent"}},"layer":[
 {"data":{"name":"lines"},"transform":[{"filter":"datum.p=='e'&&datum.k=='s'"}],"mark":{"type":"line","color":"black","strokeWidth":1,"clip":true,"interpolate":"monotone"},
  "encoding":{"x":{"field":"x","type":"quantitative","scale":{"domain":[0,3.5],"nice":false},"axis":{"orient":"bottom","values":[0,1,2,3],"tickSize":-4,"labelPadding":15,"format":"d","title":null}},
   "y":{"field":"y","type":"quantitative","scale":{"domain":[0,0.48],"nice":false},"axis":{"orient":"left","values":[0,0.1,0.2,0.3,0.4],"tickSize":-4,"labelPadding":11,"format":".1f","title":null}}}},
 {"data":{"name":"lines"},"transform":[{"filter":"datum.p=='e'&&datum.k=='d'"}],"mark":{"type":"line","color":"black","strokeWidth":1,"clip":true,"interpolate":"monotone","strokeDash":[20,7]},
  "encoding":{"x":{"field":"x","type":"quantitative","axis":{"orient":"bottom","values":[0.2,0.4,0.6,0.8,1.2,1.4,1.6,1.8,2.2,2.4,2.6,2.8,3.2,3.4],"tickSize":-2,"domain":false,"labels":false,"title":null}},
   "y":{"field":"y","type":"quantitative","axis":{"orient":"left","values":[0.02,0.04,0.06,0.08,0.12,0.14,0.16,0.18,0.22,0.24,0.26,0.28,0.32,0.34,0.36,0.38,0.42,0.44,0.46],"tickSize":-2,"domain":false,"labels":false,"title":null}}}},
 {"data":{"name":"pts"},"transform":[{"filter":"datum.p=='e'"}],"mark":{"type":"point","filled":true,"color":"black","opacity":1,"size":64,"clip":true},
  "encoding":{"x":{"field":"x","type":"quantitative","axis":{"orient":"top","values":[0,1,2,3],"tickSize":-4,"labels":false,"title":null}},
   "y":{"field":"y","type":"quantitative","axis":{"orient":"right","values":[0,0.1,0.2,0.3,0.4],"tickSize":-4,"labels":false,"title":null}},
   "shape":{"field":"s","type":"nominal","scale":{"domain":["v₂{BBC}","v₂{ZDC-SMD}","v₂{2}"],"range":["circle","square","triangle-up"]},"legend":null}}},
 {"data":{"name":"labels"},"transform":[{"filter":"datum.p=='e'"}],"mark":{"type":"text","align":"left","baseline":"middle","fontSize":14.5,"font":"Liberation Sans","color":"black","clip":true},
  "encoding":{"x":{"datum":0.79,"type":"quantitative","axis":{"orient":"top","values":[0.2,0.4,0.6,0.8,1.2,1.4,1.6,1.8,2.2,2.4,2.6,2.8,3.2,3.4],"tickSize":-2,"domain":false,"labels":false,"title":null}},
   "y":{"datum":0.05,"type":"quantitative","axis":{"orient":"right","values":[0.02,0.04,0.06,0.08,0.12,0.14,0.16,0.18,0.22,0.24,0.26,0.28,0.32,0.34,0.36,0.38,0.42,0.44,0.46],"tickSize":-2,"domain":false,"labels":false,"title":null}},
   "text":{"field":"t"}}}
]},
{"width":153,"height":161,"resolve":{"axis":{"x":"independent","y":"independent"}},"layer":[
 {"data":{"name":"lines"},"transform":[{"filter":"datum.p=='f'&&datum.k=='s'"}],"mark":{"type":"line","color":"black","strokeWidth":1,"clip":true,"interpolate":"monotone"},
  "encoding":{"x":{"field":"x","type":"quantitative","scale":{"domain":[0,3.35],"nice":false},"axis":{"orient":"bottom","values":[0,1,2,3],"tickSize":-4,"labelPadding":15,"format":"d","title":"pT (GeV)","titlePadding":4}},
   "y":{"field":"y","type":"quantitative","scale":{"domain":[0,0.48],"nice":false},"axis":{"orient":"left","values":[0,0.1,0.2,0.3,0.4],"tickSize":-4,"labels":false,"title":null}}}},
 {"data":{"name":"lines"},"transform":[{"filter":"datum.p=='f'&&datum.k=='d'"}],"mark":{"type":"line","color":"black","strokeWidth":1,"clip":true,"interpolate":"monotone","strokeDash":[20,7]},
  "encoding":{"x":{"field":"x","type":"quantitative","axis":{"orient":"bottom","values":[0.2,0.4,0.6,0.8,1.2,1.4,1.6,1.8,2.2,2.4,2.6,2.8,3.2],"tickSize":-2,"domain":false,"labels":false,"title":null}},
   "y":{"field":"y","type":"quantitative","axis":{"orient":"left","values":[0.02,0.04,0.06,0.08,0.12,0.14,0.16,0.18,0.22,0.24,0.26,0.28,0.32,0.34,0.36,0.38,0.42,0.44,0.46],"tickSize":-2,"domain":false,"labels":false,"title":null}}}},
 {"data":{"name":"pts"},"transform":[{"filter":"datum.p=='f'"}],"mark":{"type":"point","filled":true,"color":"black","opacity":1,"size":64,"clip":true},
  "encoding":{"x":{"field":"x","type":"quantitative","axis":{"orient":"top","values":[0,1,2,3],"tickSize":-4,"labels":false,"title":null}},
   "y":{"field":"y","type":"quantitative","axis":null},
   "shape":{"field":"s","type":"nominal","scale":{"domain":["v₂{BBC}","v₂{ZDC-SMD}","v₂{2}"],"range":["circle","square","triangle-up"]},"legend":null}}},
 {"data":{"name":"labels"},"transform":[{"filter":"datum.p=='f'"}],"mark":{"type":"text","align":"left","baseline":"middle","fontSize":14.5,"font":"Liberation Sans","color":"black","clip":true},
  "encoding":{"x":{"datum":0.87,"type":"quantitative","axis":{"orient":"top","values":[0.2,0.4,0.6,0.8,1.2,1.4,1.6,1.8,2.2,2.4,2.6,2.8,3.2],"tickSize":-2,"domain":false,"labels":false,"title":null}},
   "y":{"datum":0.052,"type":"quantitative","axis":null},"text":{"field":"t"}}}
]}
]
}
